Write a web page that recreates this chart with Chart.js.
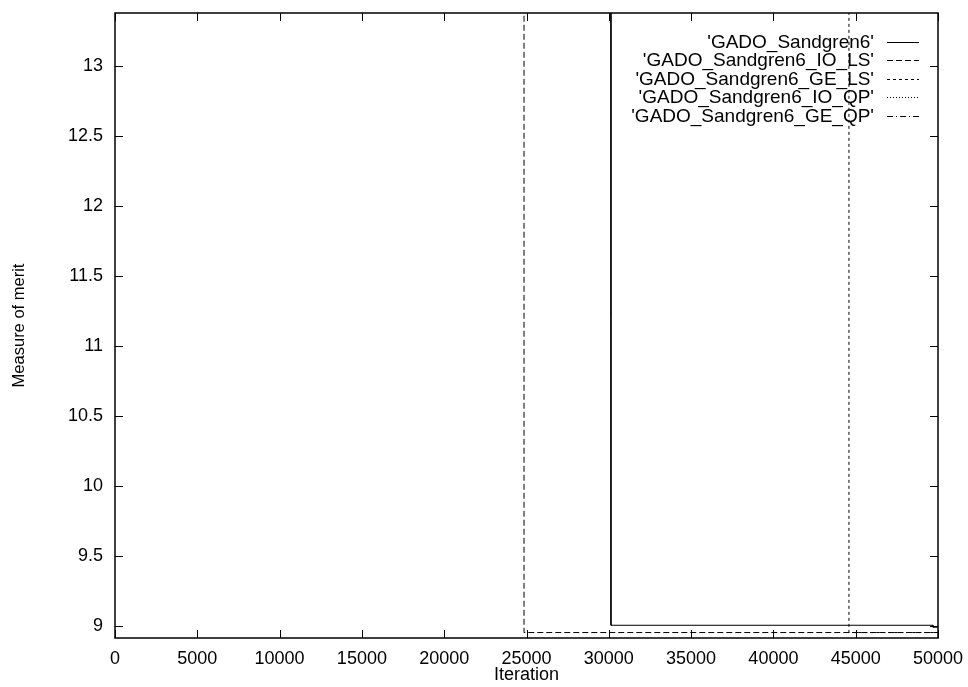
<!DOCTYPE html>
<html>
<head>
<meta charset="utf-8">
<script src="https://cdn.jsdelivr.net/npm/chart.js@4/dist/chart.umd.min.js"></script>
<style>
  html, body { margin: 0; padding: 0; background: #fff; }
  #wrap { width: 968px; height: 687px; position: relative; }
</style>
</head>
<body>
<div id="wrap"><canvas id="merit-chart"></canvas></div>
<script>
const seriesLabels = [
  "'GADO_Sandgren6'",
  "'GADO_Sandgren6_IO_LS'",
  "'GADO_Sandgren6_GE_LS'",
  "'GADO_Sandgren6_IO_QP'",
  "'GADO_Sandgren6_GE_QP'"
];

// iteration / merit pairs (values above 13.38 are off the top)
const baseIter = [0, 30130, 30130, 49700, 49700, 50000];
const baseMerit = [15, 15, 9.007, 9.007, 8.993, 8.993];
const ioLsIter = [0, 24850, 24850, 50000];
const ioLsMerit = [15, 15, 8.955, 8.955];
const geLsIter = [0, 44590, 44590, 50000];
const geLsMerit = [15, 15, 8.955, 8.955];
const ioQpIter = [0, 50000];
const ioQpMerit = [14.5, 14.5];
const geQpIter = [0, 50000];
const geQpMerit = [14.8, 14.8];

const xTickStep = 5000;
const yTickStep = 0.5;
const X_MIN = 0;
const X_MAX = 50000;
const Y_MIN = 8.916;
const Y_MAX = 13.378;

const FONT = '"Liberation Sans", Arial, sans-serif';
const TICK_LEN = 8;

function toPoints(xs, ys) {
  return xs.map((x, i) => ({ x, y: ys[i] }));
}

const dashes = [[], [6, 3], [3, 3], [1, 2], [6, 3, 1, 3]];
const seriesData = [
  toPoints(baseIter, baseMerit),
  toPoints(ioLsIter, ioLsMerit),
  toPoints(geLsIter, geLsMerit),
  toPoints(ioQpIter, ioQpMerit),
  toPoints(geQpIter, geQpMerit)
];

// gnuplot-like border with inward ticks on all four sides
const framePlugin = {
  id: "frame",
  afterDraw(chart) {
    const { ctx, chartArea: a, scales } = chart;
    ctx.save();
    ctx.strokeStyle = "#000";
    ctx.lineWidth = 1.5;
    ctx.setLineDash([]);
    ctx.strokeRect(a.left, a.top, a.right - a.left, a.bottom - a.top);
    ctx.lineWidth = 1;
    ctx.beginPath();
    scales.x.ticks.forEach((t) => {
      const px = Math.round(scales.x.getPixelForValue(t.value)) + 0.5;
      ctx.moveTo(px, a.bottom);
      ctx.lineTo(px, a.bottom - TICK_LEN);
      ctx.moveTo(px, a.top);
      ctx.lineTo(px, a.top + TICK_LEN);
    });
    scales.y.ticks.forEach((t) => {
      const py = Math.round(scales.y.getPixelForValue(t.value)) + 0.5;
      ctx.moveTo(a.left, py);
      ctx.lineTo(a.left + TICK_LEN, py);
      ctx.moveTo(a.right, py);
      ctx.lineTo(a.right - TICK_LEN, py);
    });
    ctx.stroke();
    ctx.restore();
  }
};

// key in the top right corner: label right-aligned, sample line after it
const keyPlugin = {
  id: "key",
  afterDatasetsDraw(chart) {
    const { ctx, chartArea: a } = chart;
    const lineEnd = a.right - 19;
    const lineStart = lineEnd - 32;
    ctx.save();
    ctx.font = "19px " + FONT;
    ctx.fillStyle = "#000";
    ctx.textAlign = "right";
    ctx.textBaseline = "middle";
    chart.data.datasets.forEach((ds, i) => {
      const y = Math.round(a.top + 28.5 + i * 18.6) + 0.5;
      ctx.fillText(ds.label, lineStart - 13, y);
      ctx.strokeStyle = "#000";
      ctx.lineWidth = 1;
      ctx.setLineDash(ds.borderDash);
      ctx.beginPath();
      ctx.moveTo(lineStart, y);
      ctx.lineTo(lineEnd, y);
      ctx.stroke();
    });
    ctx.restore();
  }
};

new Chart(document.querySelector("#merit-chart"), {
  type: "line",
  plugins: [framePlugin, keyPlugin],
  data: {
    datasets: seriesLabels.map((label, i) => ({
      label,
      data: seriesData[i],
      borderColor: "#000",
      borderWidth: 1,
      borderDash: dashes[i],
      pointRadius: 0,
      tension: 0,
      fill: false
    }))
  },
  options: {
    responsive: true,
    maintainAspectRatio: false,
    animation: false,
    devicePixelRatio: 1,
    layout: { padding: { left: 0, top: 13, right: 30, bottom: 0 } },
    plugins: {
      legend: { display: false },
      tooltip: { enabled: false }
    },
    scales: {
      x: {
        type: "linear",
        position: "bottom",
        min: X_MIN,
        max: X_MAX,
        grid: { display: false, drawTicks: false },
        border: { display: false },
        ticks: {
          stepSize: xTickStep,
          color: "#000",
          font: { family: FONT, size: 18 },
          padding: 10,
          maxRotation: 0,
          autoSkip: false,
          callback: (v) => String(v)
        },
        title: {
          display: true,
          text: "Iteration",
          color: "#000",
          font: { family: FONT, size: 18 },
          padding: { top: 0, bottom: 1 }
        },
        afterFit(scale) {
          scale.height = 49;
          scale.paddingLeft = 0;
          scale.paddingRight = 0;
        }
      },
      y: {
        type: "linear",
        min: Y_MIN,
        max: Y_MAX,
        grid: { display: false, drawTicks: false },
        border: { display: false },
        ticks: {
          stepSize: yTickStep,
          includeBounds: false,
          color: "#000",
          font: { family: FONT, size: 18 },
          padding: 12,
          callback: (v) => String(v)
        },
        title: {
          display: true,
          text: "Measure of merit",
          color: "#000",
          font: { family: FONT, size: 16.5 },
          padding: { top: 10, bottom: 0 }
        },
        afterFit(scale) {
          scale.width = 115;
          scale.paddingTop = 0;
          scale.paddingBottom = 0;
        }
      }
    }
  }
});
</script>
</body>
</html>
